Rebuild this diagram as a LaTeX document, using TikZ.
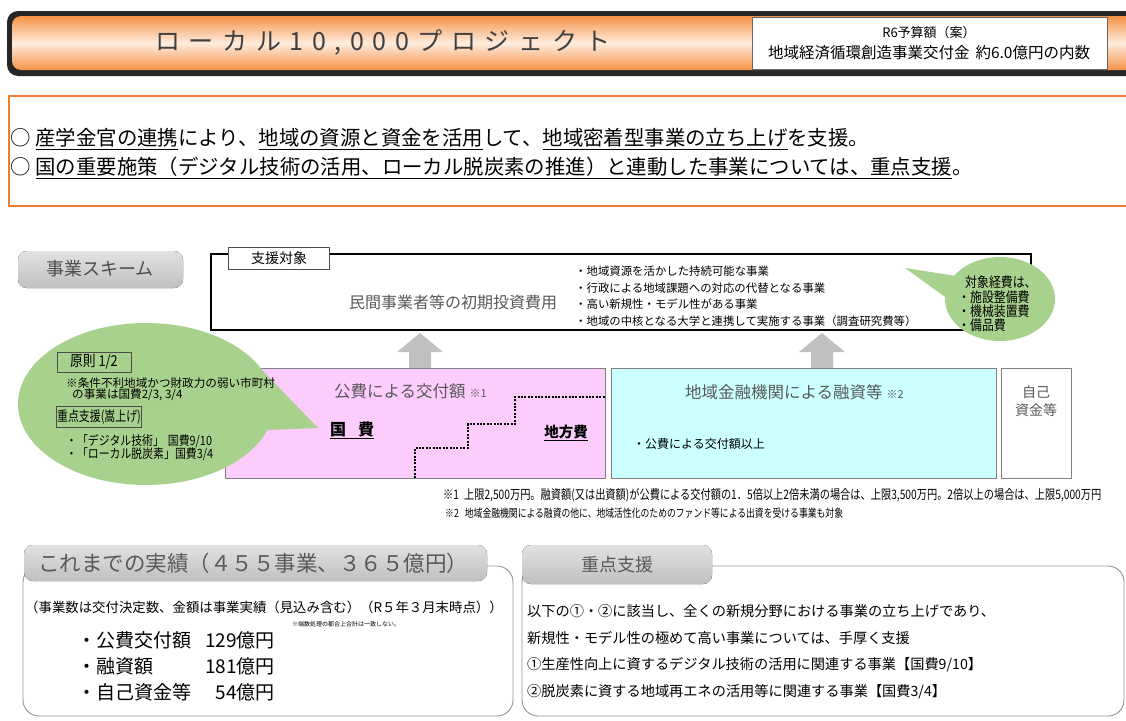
\documentclass[tikz,border=0pt]{standalone}
\usepackage{fontspec}
\setmainfont{Noto Sans CJK JP}
\newfontfamily\cond[FakeStretch=0.78]{Noto Sans CJK JP}
\newfontfamily\condb[FakeStretch=0.85]{Noto Sans CJK JP}
\definecolor{hdrorange}{RGB}{246,146,70}
\definecolor{hdrlight}{RGB}{254,236,222}
\definecolor{boxorange}{RGB}{237,125,49}
\definecolor{bubblegreen}{RGB}{169,209,142}
\definecolor{pinkfill}{RGB}{252,204,252}
\definecolor{cyanfill}{RGB}{204,255,255}
\definecolor{tabtop}{RGB}{225,225,225}
\definecolor{tabbot}{RGB}{192,192,192}
\definecolor{txtgray}{RGB}{89,89,89}
\definecolor{arrowgray}{RGB}{192,192,192}
\newcommand\lsp{\hspace{8.6pt}}
\begin{document}
\begin{tikzpicture}[x=1pt,y=-1pt,
  txt/.style={inner sep=0pt, anchor=west},
  ctxt/.style={inner sep=0pt, anchor=center},
  graytab/.style={rounded corners=9pt, top color=tabtop, bottom color=tabbot, draw=none},
  panel/.style={draw=gray!85, line width=0.9pt, rounded corners=16pt},
  uparrow/.style={fill=arrowgray, draw=none},
  bubble/.style={fill=bubblegreen, draw=none},
  smallbox/.style={draw=black!70, line width=0.8pt, inner sep=0pt, anchor=center},
  stair/.style={line width=2.6pt, dash pattern=on 2pt off 1.4pt}
]
\useasboundingbox (0,0) rectangle (1126,720);
\clip (0,0) rectangle (1126,720);
\fill[white] (0,0) rectangle (1126,720);

% ---------------- header ----------------
\fill[black!85, rounded corners=11pt] (7,11) rectangle (1170,76);
\shade[rounded corners=9pt, top color=hdrorange, bottom color=hdrorange, middle color=hdrlight] (12,16) rectangle (1170,70);
\node[ctxt, text=black!75, font=\fontsize{25}{25}\selectfont] (title) at (383,42)
  {ロ\lsp ー\lsp カ\lsp ル\lsp 1\lsp 0\lsp ,\lsp 0\lsp 0\lsp 0\lsp プ\lsp ロ\lsp ジ\lsp ェ\lsp ク\lsp ト};
\draw[fill=white, draw=black!60, line width=0.6pt] (752,17) rectangle (1107,69);
\node[ctxt, font=\fontsize{13}{13}\selectfont] (budget1) at (929,33) {R6予算額（案）};
\node[ctxt, font=\fontsize{15.5}{15.5}\selectfont] (budget2) at (929,53) {地域経済循環創造事業交付金\hspace{6pt}約6.0億円の内数};

% ---------------- summary box ----------------
\draw[boxorange, line width=2pt] (9,96) rectangle (1150,206);
\node[txt, font=\fontsize{20.4}{20.4}\selectfont] (line1) at (10,139)
  {○\hspace{5pt}\underline{産学金官の連携}により、\underline{地域の資源と資金を活用}して、\underline{地域密着型事業の立ち上げ}を支援。};
\node[txt, font=\fontsize{20.4}{20.4}\selectfont] (line2) at (10,168)
  {○\hspace{5pt}\underline{国の重要施策（デジタル技術の活用、ローカル脱炭素の推進）と連動した事業については、重点支援}。};

% ---------------- scheme ----------------
\fill[graytab] (18,251) rectangle (183,288);
\node[ctxt, text=black!70, font=\fontsize{18}{18}\selectfont] (scheme) at (100,269) {事業スキーム};

\draw[line width=1.6pt] (211,254) rectangle (1031,330);
\node[smallbox, fill=white, minimum width=101pt, minimum height=22pt, font=\fontsize{14}{14}\selectfont] (target) at (279,258) {支援対象};
\node[ctxt, text=txtgray, font=\fontsize{16}{16}\selectfont] (initcost) at (453,302) {民間事業者等の初期投資費用};
\node[txt, font=\fontsize{11.4}{11.4}\selectfont] (b1) at (575,271) {・地域資源を活かした持続可能な事業};
\node[txt, font=\fontsize{11.4}{11.4}\selectfont] (b2) at (575,288) {・行政による地域課題への対応の代替となる事業};
\node[txt, font=\fontsize{11.4}{11.4}\selectfont] (b3) at (575,304) {・高い新規性・モデル性がある事業};
\node[txt, font=\fontsize{11.4}{11.4}\selectfont] (b4) at (575,321) {・地域の中核となる大学と連携して実施する事業（調査研究費等）};

% right bubble
\fill[bubble] (1000,299) ellipse [x radius=55pt, y radius=42pt];
\fill[bubble] (956,276) -- (905,268) -- (952,302) -- cycle;
\node[txt, font=\condb\fontsize{14}{14}\selectfont] (cost0) at (965,282) {対象経費は、};
\node[txt, font=\condb\fontsize{14}{14}\selectfont] (cost1) at (958,297) {・施設整備費};
\node[txt, font=\condb\fontsize{14}{14}\selectfont] (cost2) at (958,311) {・機械装置費};
\node[txt, font=\condb\fontsize{14}{14}\selectfont] (cost3) at (958,325) {・備品費};

% up arrows
\fill[uparrow] (420,333) -- (443,352) -- (431,352) -- (431,368) -- (409,368) -- (409,352) -- (397,352) -- cycle;
\fill[uparrow] (822,333) -- (845,352) -- (833,352) -- (833,368) -- (811,368) -- (811,352) -- (799,352) -- cycle;

% funding boxes
\draw[fill=pinkfill, draw=gray, line width=0.8pt] (225,368) rectangle (605,478);
\draw[fill=cyanfill, draw=gray, line width=0.8pt] (611,368) rectangle (996,478);
\draw[fill=white, draw=gray, line width=0.8pt] (1001,368) rectangle (1071,478);
\draw[stair] (415,478) -- (415,448) -- (468,448) -- (468,424) -- (515,424) -- (515,397) -- (605,397);

\node[txt, text=txtgray, font=\fontsize{16.5}{16.5}\selectfont] (public) at (334,391) {公費による交付額\hspace{4pt}{\fontsize{11}{11}\selectfont ※1}};
\node[ctxt, font=\bfseries\fontsize{16}{16}\selectfont] (kokuhi) at (352,430) {\underline{国\hspace{12pt}費}};
\node[ctxt, font=\bfseries\fontsize{14.5}{14.5}\selectfont] (chihou) at (566,433) {\underline{地方費}};
\node[txt, text=txtgray, font=\fontsize{16.5}{16.5}\selectfont] (loan) at (685,392) {地域金融機関による融資等\hspace{4pt}{\fontsize{11}{11}\selectfont ※2}};
\node[txt, font=\fontsize{12}{12}\selectfont] (loan1) at (633,444) {・公費による交付額以上};
\node[ctxt, text=txtgray, font=\fontsize{14}{14}\selectfont] (own1) at (1036,392) {自己};
\node[ctxt, text=txtgray, font=\fontsize{14}{14}\selectfont] (own2) at (1036,410) {資金等};

% left bubble
\fill[bubble] (146,404) ellipse [x radius=128pt, y radius=81pt];
\fill[bubble] (262,370) -- (318,428) -- (268,430) -- cycle;
\node[smallbox, minimum width=74pt, minimum height=20pt, font=\condb\fontsize{15}{15}\selectfont] (gensoku) at (94,362) {原則 1/2};
\node[txt, font=\fontsize{11.6}{11.6}\selectfont] (cond1) at (66,383) {※条件不利地域かつ財政力の弱い市町村};
\node[txt, font=\fontsize{11.6}{11.6}\selectfont] (cond2) at (72,395) {の事業は国費2/3, 3/4};
\node[smallbox, minimum width=85pt, minimum height=21pt, font=\cond\fontsize{14}{14}\selectfont] (kasaage) at (99,417) {重点支援(嵩上げ)};
\node[txt, font=\condb\fontsize{12.8}{12.8}\selectfont] (dig) at (66,441) {・「デジタル技術」\hspace{4pt}国費9/10};
\node[txt, font=\condb\fontsize{12.8}{12.8}\selectfont] (carb) at (66,454) {・「ローカル脱炭素」国費3/4};

% footnotes
\node[txt, font=\cond\fontsize{13.1}{13.1}\selectfont] (fn1) at (443,495) {※1\hspace{5pt}上限2,500万円。融資額(又は出資額)が公費による交付額の1．5倍以上2倍未満の場合は、上限3,500万円。2倍以上の場合は、上限5,000万円};
\node[txt, font=\cond\fontsize{11.3}{11.3}\selectfont] (fn2) at (445,513) {※2\hspace{6pt}地域金融機関による融資の他に、地域活性化のためのファンド等による出資を受ける事業も対象};

% ---------------- bottom left panel ----------------
\draw[panel] (23,566) rectangle (513,716);
\fill[graytab] (24,545) rectangle (487,581);
\node[ctxt, text=txtgray, font=\fontsize{21.5}{21.5}\selectfont] (results) at (253,563) {これまでの実績（４５５事業、３６５億円）};
\node[txt, font=\fontsize{13.4}{13.4}\selectfont] (resnote) at (25,607) {（事業数は交付決定数、金額は事業実績（見込み含む）（R５年３月末時点））};
\node[txt, font=\fontsize{6}{6}\selectfont] (round) at (292,624) {※端数処理の都合上合計は一致しない。};
\node[txt, font=\fontsize{19}{19}\selectfont] (r1) at (77,640) {・公費交付額};
\node[txt, font=\fontsize{19}{19}\selectfont] (r2) at (77,666) {・融資額};
\node[txt, font=\fontsize{19}{19}\selectfont] (r3) at (77,692) {・自己資金等};
\node[inner sep=0pt, anchor=east, font=\fontsize{19}{19}\selectfont] (a1) at (275,640) {129億円};
\node[inner sep=0pt, anchor=east, font=\fontsize{19}{19}\selectfont] (a2) at (275,666) {181億円};
\node[inner sep=0pt, anchor=east, font=\fontsize{19}{19}\selectfont] (a3) at (275,692) {54億円};

% ---------------- bottom right panel ----------------
\draw[panel] (522,566) rectangle (1124,716);
\fill[graytab] (522,545) rectangle (712,584);
\node[ctxt, text=txtgray, font=\fontsize{18}{18}\selectfont] (juten) at (617,565) {重点支援};
\node[txt, font=\fontsize{14.2}{14.2}\selectfont] (j1) at (527,611) {以下の①・②に該当し、全くの新規分野における事業の立ち上げであり、};
\node[txt, font=\fontsize{14.2}{14.2}\selectfont] (j2) at (527,638) {新規性・モデル性の極めて高い事業については、手厚く支援};
\node[txt, font=\fontsize{14.2}{14.2}\selectfont] (j3) at (527,665) {①生産性向上に資するデジタル技術の活用に関連する事業【国費9/10】};
\node[txt, font=\fontsize{14.2}{14.2}\selectfont] (j4) at (527,692) {②脱炭素に資する地域再エネの活用等に関連する事業【国費3/4】};
\end{tikzpicture}
\end{document}
